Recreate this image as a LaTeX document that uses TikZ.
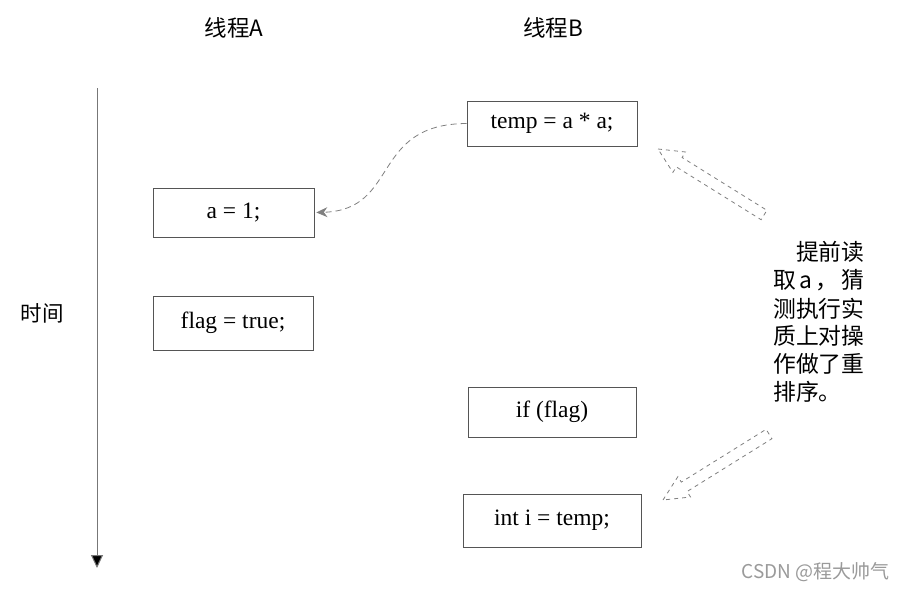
\documentclass[tikz,border=0pt]{standalone}
\usepackage{fontspec}
\setmainfont{Liberation Serif}
\newfontfamily\cjk{Noto Sans CJK SC}
\usetikzlibrary{arrows.meta}
\definecolor{boxline}{HTML}{555555}
\definecolor{dashgray}{HTML}{808080}
\definecolor{axisgray}{HTML}{777777}
\definecolor{wmgray}{HTML}{9A9A9A}
\tikzset{
  codebox/.style={draw=boxline, line width=0.8pt, inner sep=0pt, font=\fontsize{23.5}{25}\selectfont},
  title/.style={font=\cjk\fontsize{22.5}{24}\selectfont, inner sep=0pt},
  noteline/.style={font=\cjk\fontsize{22.8}{25}\selectfont, inner sep=0pt, anchor=west},
  curvelink/.style={draw=dashgray, line width=0.8pt, dash pattern=on 6pt off 4pt, -{Stealth[length=11pt,width=10pt,fill=dashgray]}},
  hollowarrow/.style={draw=dashgray, line width=0.8pt, dash pattern=on 4pt off 4pt},
  timeaxis/.style={draw=axisgray, line width=1pt, -{Triangle[length=13pt,width=12pt,fill=black]}}
}
\begin{document}
\begin{tikzpicture}[x=1pt,y=-1pt]
\useasboundingbox (0,0) rectangle (905,589);
\fill[white] (0,0) rectangle (905,589);

% titles
\node[title] (thA) at (234,28) {线程A};
\node[title] (thB) at (553,28) {线程B};

% time axis
\coordinate (axtop) at (97,88);
\coordinate (axbot) at (97,568);
\draw[timeaxis] (axtop) -- (axbot);
\node[title, font=\cjk\fontsize{21.5}{23}\selectfont] (time) at (42,313) {时间};

% code boxes
\node[codebox, minimum width=170pt, minimum height=45pt] (tmp) at (552,123.5) {temp = a * a;};
\node[codebox, minimum width=161pt, minimum height=49pt] (a1) at (233.5,212.5) {a = 1;};
\node[codebox, minimum width=160pt, minimum height=54pt] (flag) at (233,323) {flag = true;};
\node[codebox, minimum width=168pt, minimum height=50pt] (iff) at (552,412) {if (flag)};
\node[codebox, minimum width=178pt, minimum height=53pt] (inti) at (552,520.5) {int i = temp;};

% dashed curved link
\draw[curvelink] (tmp.west) .. controls (370,124) and (400,210) .. ([xshift=2pt]a1.east);

% hollow dashed arrows
\draw[hollowarrow] (658,149) -- (685.5,152.0) -- (682.1,157.5) -- (766.9,210.3) -- (761.1,219.7) -- (676.3,166.9) -- (672.9,172.4) -- cycle;
\draw[hollowarrow] (663,500) -- (677.9,476.6) -- (681.3,482.1) -- (766.1,429.3) -- (771.9,438.7) -- (687.1,491.5) -- (690.5,497.0) -- cycle;

% note text
\node[noteline] (n1) at (773,252) {\hbox to 91.2pt{\hfill 提前读}};
\node[noteline] (n2) at (773,280) {\hbox to 91.2pt{取\hfill a\hfill ，\hfill 猜}};
\node[noteline] (n3) at (773,309) {\hbox to 91.2pt{测执行实}};
\node[noteline] (n4) at (773,336) {\hbox to 91.2pt{质上对操}};
\node[noteline] (n5) at (773,364) {\hbox to 91.2pt{作做了重}};
\node[noteline] (n6) at (773,392) {排序。};

% watermark
\node[font=\cjk\fontsize{19}{21}\selectfont, text=wmgray, inner sep=0pt, anchor=east] (wm) at (890,572) {CSDN @程大帅气};
\end{tikzpicture}
\end{document}
